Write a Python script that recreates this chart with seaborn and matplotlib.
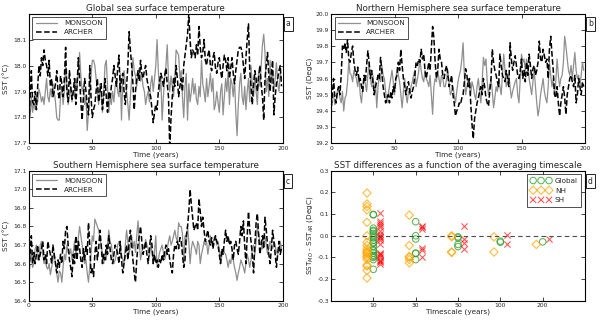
"""Model vs. observed sea surface temperature: time series and averaging-timescale differences."""

import matplotlib

matplotlib.use("Agg")
import matplotlib.pyplot as plt
import numpy as np
import pandas as pd
import seaborn as sns

# Annual mean SST, years 0..199
years = np.arange(200)

glob_monsoon = [
    17.85, 17.80, 17.88, 17.82, 17.86, 17.83, 17.88, 17.86, 17.91, 17.89,
    17.86, 17.88, 17.85, 17.90, 17.95, 17.88, 17.86, 17.91, 17.88, 17.93,
    17.90, 17.86, 17.80, 17.79, 17.79, 17.88, 17.92, 17.85, 17.90, 18.00,
    17.92, 17.85, 17.88, 17.92, 17.86, 17.90, 17.88, 17.95, 17.92, 17.98,
    18.05, 17.96, 17.90, 17.92, 17.85, 17.88, 17.75, 17.82, 17.90, 17.96,
    18.02, 18.02, 18.00, 17.95, 17.90, 17.85, 17.93, 17.88, 17.82, 17.90,
    18.00, 18.02, 17.92, 17.82, 17.88, 17.85, 17.90, 17.86, 17.92, 17.95,
    17.90, 17.88, 17.97, 17.79, 17.95, 17.98, 17.93, 17.90, 17.85, 17.79,
    17.88, 17.95, 18.03, 17.98, 17.96, 17.92, 17.97, 17.99, 17.94, 17.96,
    17.92, 17.90, 17.85, 17.88, 17.90, 17.86, 17.93, 17.96, 17.90, 17.95,
    18.00, 18.10, 17.98, 17.90, 17.95, 17.79, 17.88, 17.95, 18.00, 18.08,
    17.95, 17.90, 17.96, 17.92, 17.88, 17.95, 18.06, 18.05, 18.04, 17.95,
    17.98, 17.88, 17.80, 17.92, 17.97, 17.79, 17.93, 17.86, 17.90, 17.95,
    17.89, 17.93, 17.87, 17.85, 17.92, 17.88, 18.02, 17.93, 17.90, 17.86,
    17.95, 17.88, 17.92, 17.97, 17.90, 17.95, 17.83, 17.85, 17.90, 17.86,
    17.82, 17.90, 17.93, 17.81, 17.88, 17.95, 17.90, 17.98, 17.85, 17.95,
    17.93, 17.88, 17.95, 17.82, 17.73, 17.85, 17.93, 17.97, 17.88, 17.85,
    17.92, 17.83, 17.90, 17.95, 17.86, 18.00, 17.92, 17.88, 17.96, 17.90,
    17.85, 17.97, 17.92, 18.00, 18.08, 18.12, 18.05, 17.90, 17.95, 17.88,
    18.02, 17.93, 17.98, 17.90, 17.95, 18.01, 17.93, 17.90, 17.97, 17.95,
]
glob_archer = [
    17.75, 17.88, 17.98, 17.86, 17.85, 17.90, 17.83, 17.92, 18.00, 17.96,
    18.03, 18.00, 18.06, 18.02, 18.00, 17.96, 18.02, 17.92, 17.95, 17.88,
    17.90, 17.93, 17.98, 17.90, 17.87, 17.96, 17.93, 17.88, 17.95, 18.07,
    17.90, 17.86, 17.98, 17.92, 17.87, 17.90, 17.95, 17.85, 17.92, 18.03,
    17.95, 17.86, 17.79, 17.88, 17.95, 17.90, 17.85, 17.81, 18.00, 17.88,
    17.80, 17.83, 17.85, 17.90, 17.95, 17.86, 17.90, 17.93, 17.83, 17.88,
    17.95, 17.88, 17.82, 17.90, 17.87, 17.92, 17.95, 18.00, 17.96, 17.92,
    17.99, 18.04, 17.90, 17.95, 17.97, 17.90, 17.85, 17.92, 18.00, 18.13,
    18.06, 18.00, 17.93, 17.83, 17.90, 17.95, 17.98, 17.94, 18.02, 17.97,
    17.95, 17.98, 18.00, 17.95, 17.92, 17.90, 17.88, 17.83, 17.78, 17.82,
    17.85, 17.83, 17.90, 17.94, 17.97, 17.95, 17.92, 17.96, 17.99, 17.93,
    17.88, 17.68, 17.80, 17.88, 17.95, 17.92, 18.00, 17.95, 17.88, 17.92,
    17.95, 17.90, 18.00, 18.04, 18.08, 18.12, 18.20, 18.10, 18.03, 18.06,
    18.05, 18.03, 18.08, 18.04, 18.15, 18.07, 18.03, 18.05, 18.10, 18.02,
    18.00, 18.04, 18.06, 18.00, 17.98, 18.03, 18.05, 17.99, 17.97, 18.01,
    18.03, 17.98, 17.95, 18.00, 18.04, 18.02, 17.98, 18.03, 17.95, 17.99,
    18.03, 17.97, 17.93, 17.98, 18.02, 18.06, 18.07, 18.07, 18.05, 18.00,
    17.95, 18.03, 18.10, 18.16, 17.98, 17.92, 17.85, 17.93, 17.98, 17.95,
    17.90, 17.96, 18.00, 17.93, 17.88, 17.79, 17.95, 18.00, 18.05, 17.96,
    17.90, 17.97, 18.02, 17.81, 17.88, 17.93, 17.95, 17.98, 18.00, 17.92,
]

nh_monsoon = [
    19.42, 19.48, 19.50, 19.44, 19.45, 19.52, 19.55, 19.48, 19.45, 19.52,
    19.40, 19.48, 19.50, 19.58, 19.71, 19.63, 19.62, 19.58, 19.65, 19.62,
    19.60, 19.55, 19.62, 19.50, 19.45, 19.55, 19.60, 19.57, 19.52, 19.62,
    19.70, 19.60, 19.55, 19.62, 19.50, 19.58, 19.42, 19.55, 19.62, 19.58,
    19.68, 19.62, 19.60, 19.52, 19.45, 19.50, 19.55, 19.60, 19.65, 19.58,
    19.50, 19.58, 19.67, 19.62, 19.58, 19.50, 19.42, 19.52, 19.60, 19.50,
    19.45, 19.52, 19.50, 19.55, 19.58, 19.62, 19.65, 19.55, 19.60, 19.64,
    19.72, 19.65, 19.60, 19.58, 19.65, 19.60, 19.58, 19.55, 19.62, 19.50,
    19.38, 19.55, 19.60, 19.58, 19.65, 19.60, 19.55, 19.62, 19.60, 19.55,
    19.55, 19.60, 19.65, 19.57, 19.50, 19.52, 19.55, 19.50, 19.45, 19.52,
    19.58, 19.62, 19.65, 19.72, 19.82, 19.62, 19.50, 19.55, 19.60, 19.55,
    19.50, 19.58, 19.55, 19.50, 19.47, 19.55, 19.60, 19.52, 19.45, 19.58,
    19.73, 19.68, 19.72, 19.58, 19.50, 19.55, 19.60, 19.52, 19.42, 19.48,
    19.55, 19.52, 19.60, 19.55, 19.50, 19.62, 19.75, 19.65, 19.55, 19.58,
    19.62, 19.55, 19.48, 19.52, 19.55, 19.58, 19.60, 19.50, 19.45, 19.60,
    19.75, 19.70, 19.72, 19.65, 19.72, 19.68, 19.60, 19.55, 19.50, 19.58,
    19.65, 19.55, 19.45, 19.37, 19.42, 19.50, 19.55, 19.60, 19.52, 19.48,
    19.45, 19.55, 19.70, 19.62, 19.55, 19.60, 19.50, 19.58, 19.72, 19.62,
    19.55, 19.60, 19.62, 19.70, 19.86, 19.80, 19.72, 19.65, 19.62, 19.68,
    19.60, 19.68, 19.76, 19.65, 19.60, 19.62, 19.55, 19.62, 19.70, 19.65,
]
nh_archer = [
    19.38, 19.50, 19.60, 19.48, 19.45, 19.52, 19.55, 19.50, 19.62, 19.80,
    19.78, 19.82, 19.76, 19.84, 19.72, 19.70, 19.76, 19.80, 19.70, 19.65,
    19.62, 19.67, 19.58, 19.60, 19.55, 19.52, 19.62, 19.58, 19.68, 19.77,
    19.70, 19.60, 19.65, 19.58, 19.50, 19.55, 19.58, 19.62, 19.60, 19.73,
    19.65, 19.55, 19.50, 19.45, 19.48, 19.50, 19.45, 19.52, 19.48, 19.55,
    19.52, 19.60, 19.62, 19.70, 19.65, 19.78, 19.68, 19.60, 19.55, 19.50,
    19.55, 19.58, 19.52, 19.48, 19.52, 19.55, 19.62, 19.70, 19.68, 19.72,
    19.70, 19.78, 19.72, 19.75, 19.65, 19.60, 19.65, 19.70, 19.65, 19.78,
    19.92, 19.85, 19.70, 19.60, 19.65, 19.78, 19.72, 19.70, 19.62, 19.60,
    19.65, 19.68, 19.62, 19.55, 19.58, 19.62, 19.50, 19.45, 19.37, 19.40,
    19.42, 19.45, 19.44, 19.48, 19.50, 19.58, 19.66, 19.62, 19.55, 19.60,
    19.45, 19.32, 19.23, 19.35, 19.40, 19.45, 19.48, 19.52, 19.55, 19.50,
    19.60, 19.55, 19.48, 19.45, 19.43, 19.52, 19.60, 19.78, 19.70, 19.65,
    19.62, 19.58, 19.55, 19.75, 19.68, 19.62, 19.60, 19.58, 19.65, 19.60,
    19.55, 19.82, 19.72, 19.65, 19.70, 19.74, 19.68, 19.62, 19.60, 19.65,
    19.72, 19.60, 19.65, 19.58, 19.70, 19.62, 19.75, 19.68, 19.60, 19.66,
    19.68, 19.62, 19.65, 19.70, 19.83, 19.72, 19.70, 19.78, 19.74, 19.70,
    19.72, 19.60, 19.78, 19.86, 19.75, 19.65, 19.50, 19.48, 19.55, 19.45,
    19.37, 19.45, 19.50, 19.55, 19.48, 19.38, 19.50, 19.55, 19.60, 19.62,
    19.58, 19.55, 19.62, 19.45, 19.50, 19.60, 19.55, 19.50, 19.58, 19.55,
]

sh_monsoon = [
    16.60, 16.63, 16.66, 16.58, 16.60, 16.68, 16.70, 16.62, 16.63, 16.70,
    16.72, 16.65, 16.60, 16.62, 16.58, 16.57, 16.60, 16.54, 16.58, 16.62,
    16.66, 16.60, 16.55, 16.50, 16.56, 16.55, 16.50, 16.58, 16.65, 16.62,
    16.70, 16.66, 16.65, 16.68, 16.62, 16.66, 16.72, 16.65, 16.68, 16.74,
    16.80, 16.75, 16.70, 16.65, 16.60, 16.62, 16.55, 16.50, 16.58, 16.65,
    16.75, 16.72, 16.84, 16.82, 16.80, 16.78, 16.74, 16.70, 16.65, 16.60,
    16.65, 16.62, 16.70, 16.78, 16.72, 16.70, 16.65, 16.60, 16.62, 16.65,
    16.70, 16.72, 16.68, 16.65, 16.62, 16.60, 16.70, 16.78, 16.72, 16.65,
    16.70, 16.75, 16.68, 16.72, 16.66, 16.75, 16.83, 16.72, 16.62, 16.66,
    16.70, 16.68, 16.73, 16.70, 16.68, 16.64, 16.70, 16.66, 16.60, 16.66,
    16.75, 16.58, 16.62, 16.66, 16.68, 16.70, 16.66, 16.62, 16.65, 16.68,
    16.72, 16.75, 16.70, 16.72, 16.75, 16.78, 16.74, 16.72, 16.82, 16.80,
    16.80, 16.76, 16.60, 16.75, 16.70, 16.80, 16.72, 16.60, 16.68, 16.72,
    16.70, 16.68, 16.65, 16.72, 16.70, 16.60, 16.65, 16.68, 16.72, 16.70,
    16.72, 16.65, 16.70, 16.75, 16.72, 16.70, 16.74, 16.75, 16.70, 16.72,
    16.68, 16.60, 16.64, 16.68, 16.66, 16.65, 16.62, 16.58, 16.62, 16.60,
    16.65, 16.62, 16.58, 16.55, 16.51, 16.55, 16.58, 16.62, 16.60, 16.58,
    16.55, 16.60, 16.65, 16.62, 16.58, 16.62, 16.68, 16.70, 16.65, 16.72,
    16.80, 16.76, 16.72, 16.70, 16.68, 16.72, 16.75, 16.70, 16.65, 16.68,
    16.72, 16.70, 16.68, 16.72, 16.70, 16.66, 16.65, 16.68, 16.72, 16.68,
]
sh_archer = [
    16.52, 16.65, 16.75, 16.60, 16.66, 16.60, 16.65, 16.70, 16.62, 16.65,
    16.68, 16.72, 16.62, 16.65, 16.60, 16.72, 16.68, 16.65, 16.60, 16.70,
    16.65, 16.60, 16.55, 16.62, 16.58, 16.65, 16.60, 16.72, 16.68, 16.78,
    16.80, 16.70, 16.62, 16.58, 16.53, 16.65, 16.60, 16.75, 16.62, 16.72,
    16.68, 16.62, 16.58, 16.68, 16.62, 16.70, 16.65, 16.82, 16.70, 16.55,
    16.58, 16.53, 16.65, 16.72, 16.62, 16.68, 16.78, 16.70, 16.60, 16.65,
    16.62, 16.70, 16.65, 16.75, 16.68, 16.62, 16.60, 16.65, 16.70, 16.68,
    16.65, 16.60, 16.72, 16.62, 16.55, 16.60, 16.65, 16.70, 16.62, 16.72,
    16.78, 16.70, 16.62, 16.55, 16.50, 16.62, 16.70, 16.75, 16.80, 16.72,
    16.65, 16.68, 16.72, 16.65, 16.60, 16.68, 16.75, 16.70, 16.60, 16.65,
    16.60, 16.62, 16.58, 16.62, 16.60, 16.65, 16.62, 16.66, 16.70, 16.65,
    16.68, 16.62, 16.58, 16.55, 16.65, 16.70, 16.68, 16.72, 16.68, 16.74,
    16.72, 16.65, 16.58, 16.62, 16.75, 16.80, 16.88, 17.00, 16.92, 16.85,
    16.78, 16.80, 16.82, 16.78, 16.95, 16.88, 16.80, 16.85, 16.78, 16.72,
    16.75, 16.78, 16.72, 16.70, 16.74, 16.68, 16.72, 16.75, 16.72, 16.70,
    16.65, 16.60, 16.68, 16.65, 16.72, 16.78, 16.72, 16.75, 16.70, 16.72,
    16.68, 16.62, 16.70, 16.72, 16.68, 16.65, 16.72, 16.80, 16.75, 16.83,
    16.70, 16.60, 16.75, 16.88, 16.78, 16.72, 16.65, 16.55, 16.70, 16.82,
    16.87, 16.75, 16.65, 16.70, 16.75, 16.68, 16.85, 16.78, 16.70, 16.65,
    16.60, 16.68, 16.78, 16.72, 16.65, 16.58, 16.65, 16.72, 16.65, 16.68,
]

# SST(MONSOON) - SST(ARCHER) for each averaging window
timescales = [10, 30, 50, 100, 200]
diff_global = [
    [0.097, 0.098, 0.035, 0.025, 0.020, 0.000, -0.010, -0.030, -0.035, -0.050,
     -0.065, -0.080, -0.090, -0.095, -0.100, -0.110, -0.155, 0.010, -0.020, -0.070],
    [0.065, 0.000, -0.015, -0.080, -0.082, -0.110],
    [-0.005, -0.010, -0.040, -0.050],
    [-0.025, -0.030],
    [-0.028],
]
diff_nh = [
    [0.197, 0.147, 0.135, 0.120, 0.062, 0.000, -0.030, -0.045, -0.060, -0.070,
     -0.075, -0.085, -0.095, -0.100, -0.110, -0.135, -0.140, -0.160, -0.195, -0.080],
    [0.095, -0.045, -0.095, -0.100, -0.110, -0.125],
    [0.000, -0.005, -0.075, -0.077],
    [-0.005, -0.075],
    [-0.040],
]
diff_sh = [
    [0.105, 0.070, 0.060, 0.050, 0.020, 0.010, 0.000, -0.010, -0.020, -0.040,
     -0.080, -0.090, -0.100, -0.110, -0.120, -0.130, 0.040, -0.005, -0.085, -0.115],
    [0.045, 0.040, 0.030, -0.055, -0.065, -0.100],
    [0.045, -0.015, -0.035, -0.060],
    [0.005, -0.040],
    [-0.017],
]

sns.set_style("white")
plt.rcParams.update({
    "font.family": ["DejaVu Sans"],
    "axes.edgecolor": "black",
    "axes.linewidth": 0.8,
    "xtick.direction": "in",
    "ytick.direction": "in",
    "xtick.top": True,
    "ytick.right": True,
    "xtick.bottom": True,
    "ytick.left": True,
    "xtick.major.size": 3,
    "ytick.major.size": 3,
    "xtick.major.width": 0.6,
    "ytick.major.width": 0.6,
    "xtick.labelsize": 4.3,
    "ytick.labelsize": 4.3,
    "axes.labelsize": 5.2,
    "axes.titlesize": 6.3,
    "legend.fontsize": 5.2,
})

fig, axes = plt.subplots(2, 2, figsize=(6, 3.22), dpi=100)
fig.subplots_adjust(left=0.048, right=0.975, top=0.958, bottom=0.066,
                    hspace=0.21, wspace=0.19)


def panel_label(ax, letter):
    ax.text(1.012, 0.955, letter, transform=ax.transAxes, ha="left", va="top",
            fontsize=5.5, bbox=dict(boxstyle="square,pad=0.3", facecolor="white",
                                    edgecolor="black", linewidth=0.6))


series = [
    (axes[0, 0], glob_monsoon, glob_archer, "Global sea surface temperature",
     "SST (°C)", (17.7, 18.2), [17.7, 17.8, 17.9, 18.0, 18.1], "a"),
    (axes[0, 1], nh_monsoon, nh_archer, "Northern Hemisphere sea surface temperature",
     "SST (DegC)", (19.2, 20.0), [19.2, 19.3, 19.4, 19.5, 19.6, 19.7, 19.8, 19.9, 20.0], "b"),
    (axes[1, 0], sh_monsoon, sh_archer, "Southern Hemisphere sea surface temperature",
     "SST (°C)", (16.4, 17.1), [16.4, 16.5, 16.6, 16.7, 16.8, 16.9, 17.0, 17.1], "c"),
]

for ax, mon, arc, title, ylabel, ylim, yticks, letter in series:
    sns.lineplot(x=years, y=mon, color="#8f8f8f", linewidth=0.9, label="MONSOON", ax=ax)
    sns.lineplot(x=years, y=arc, color="black", linewidth=1.1, linestyle="--",
                 dashes=(3, 2), label="ARCHER", ax=ax)
    ax.set_xlim(0, 200)
    ax.set_ylim(*ylim)
    ax.set_xticks([0, 50, 100, 150, 200])
    ax.set_yticks(yticks)
    ax.set_yticklabels([f"{v:.1f}" for v in yticks])
    ax.set_title(title, pad=2)
    ax.set_xlabel("Time (years)", labelpad=0.5)
    ax.set_ylabel(ylabel, labelpad=2)
    ax.tick_params(pad=1.5)
    leg = ax.legend(loc="upper left", handlelength=3.0, borderpad=0.45,
                    labelspacing=0.4, handletextpad=0.9, fancybox=False, frameon=True)
    leg.get_frame().set_edgecolor("black")
    leg.get_frame().set_linewidth(0.6)
    panel_label(ax, letter)

# Panel d: differences grouped by averaging timescale
rows = []
for region, diffs in [("Global", diff_global), ("NH", diff_nh), ("SH", diff_sh)]:
    for i, ts in enumerate(timescales):
        for v in diffs[i]:
            rows.append({"region": region, "timescale": ts, "slot": i + 1, "diff": v})
df = pd.DataFrame(rows)
offsets = {"NH": -0.15, "Global": 0.0, "SH": 0.15}
df["xpos"] = df["slot"] + df["region"].map(offsets)

ax = axes[1, 1]
ax.axhline(0, color="0.3", linestyle="--", linewidth=0.8, dashes=(4, 3))
sub = df[df["region"] == "Global"]
sns.scatterplot(x=sub["xpos"], y=sub["diff"], marker="o", s=22, facecolor="none",
                edgecolor="#2ca02c", color="#2ca02c", linewidth=0.8, alpha=0.75,
                label="Global", ax=ax)
sub = df[df["region"] == "NH"]
sns.scatterplot(x=sub["xpos"], y=sub["diff"], marker="D", s=18, facecolor="none",
                edgecolor="orange", color="orange", linewidth=0.8, alpha=0.75,
                label="NH", ax=ax)
sub = df[df["region"] == "SH"]
sns.scatterplot(x=sub["xpos"], y=sub["diff"], marker="x", s=20, color="red",
                linewidth=0.8, alpha=0.65, label="SH", ax=ax)

ax.set_xlim(0, 6)
ax.set_ylim(-0.3, 0.3)
ax.set_xticks(range(1, len(timescales) + 1))
ax.set_xticklabels([str(t) for t in timescales])
yt = [-0.3, -0.2, -0.1, 0.0, 0.1, 0.2, 0.3]
ax.set_yticks(yt)
ax.set_yticklabels([f"{v:.1f}" for v in yt])
ax.set_title("SST differences as a function of the averaging timescale", pad=2)
ax.set_xlabel("Timescale (years)", labelpad=0.5)
ax.set_ylabel("SST$_{MO}$ - SST$_{AR}$ (DegC)", labelpad=2)
ax.tick_params(pad=1.5)
leg = ax.legend(loc="upper right", scatterpoints=3, scatteryoffsets=[0.5],
                handlelength=2.8, borderpad=0.5, labelspacing=0.5, handletextpad=0.5,
                fancybox=False, frameon=True)
leg.get_frame().set_edgecolor("black")
leg.get_frame().set_linewidth(0.6)
panel_label(ax, "d")

fig.savefig("out.png", dpi=100)
